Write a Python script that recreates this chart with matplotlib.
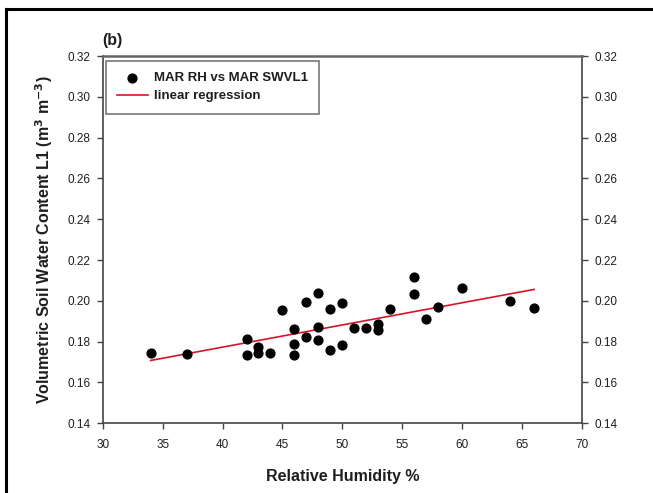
import matplotlib
matplotlib.use("Agg")
import matplotlib.pyplot as plt
from matplotlib.lines import Line2D
import numpy as np

# Monthly MAR relative humidity (%) against top-layer soil water content
rh = [34, 37, 42, 42, 43, 43, 44, 45, 46, 46, 46, 47, 47, 48, 48, 48,
      49, 49, 50, 50, 51, 52, 53, 53, 54, 56, 56, 57, 58, 60, 64, 66]
swvl1 = [0.1746, 0.1740, 0.1812, 0.1733, 0.1775, 0.1746, 0.1746, 0.1955,
         0.1861, 0.1789, 0.1733, 0.1996, 0.1825, 0.2040, 0.1874, 0.1808,
         0.1959, 0.1759, 0.1991, 0.1785, 0.1866, 0.1866, 0.1887, 0.1857,
         0.1962, 0.2119, 0.2032, 0.1913, 0.1969, 0.2063, 0.2001, 0.1967]

# Linear regression coefficients (SWVL1 = intercept + slope * RH)
fit_slope = 0.001088
fit_intercept = 0.1338

x_ticks = [30, 35, 40, 45, 50, 55, 60, 65, 70]
y_ticks = [0.14, 0.16, 0.18, 0.20, 0.22, 0.24, 0.26, 0.28, 0.30, 0.32]

plt.rcParams['font.family'] = ['Liberation Sans', 'DejaVu Sans']
text_col = '#1e1e1e'
spine_col = '#444444'

fig = plt.figure(figsize=(6.53, 4.93), dpi=100)
ax = fig.add_axes([0.1573, 0.1414, 0.7340, 0.7450])

ax.scatter(rh, swvl1, s=40, color='black', zorder=3,
           label='MAR RH vs MAR SWVL1')
fit_x = np.array([min(rh), max(rh)])
ax.plot(fit_x, fit_intercept + fit_slope * fit_x, color='#d8142c', lw=1.2,
        zorder=2, label='linear regression')

ax.set_xlim(30, 70)
ax.set_ylim(0.14, 0.32)
ax.set_xticks(x_ticks)
ax.set_yticks(y_ticks)
ax.set_yticklabels([f'{v:.2f}' for v in y_ticks])
ax.tick_params(axis='both', direction='out', length=4, width=1,
               color=spine_col, labelsize=8.5, labelcolor=text_col, pad=5)
ax.tick_params(axis='y', right=True, labelright=True)
ax.tick_params(axis='x', pad=7)
for sp in ax.spines.values():
    sp.set_color(spine_col)
    sp.set_linewidth(1.2)
ax.spines['top'].set_linewidth(1.8)
ax.spines['top'].set_color('#666666')

ax.set_xlabel('Relative Humidity %', fontsize=11.5, fontweight='bold',
              color=text_col, labelpad=13)
ax.set_ylabel('Volumetric Soil Water Content L1 (m$^\\mathbf{3}$ m$^\\mathbf{-3}$)',
              fontsize=11.5, fontweight='bold', color=text_col, labelpad=9)
ax.text(0.0, 1.022, '(b)', transform=ax.transAxes, fontsize=11.5,
        fontweight='bold', color=text_col, ha='left', va='bottom')

leg = ax.legend(loc='upper left', bbox_to_anchor=(0.007, 0.987),
                borderaxespad=0, prop={'weight': 'bold', 'size': 9.5},
                frameon=True, fancybox=False, borderpad=0.85,
                labelspacing=0.45, handlelength=2.3, handletextpad=0.5,
                scatterpoints=1)
leg.get_frame().set_edgecolor('#555555')
leg.get_frame().set_linewidth(1.2)
for t in leg.get_texts():
    t.set_color(text_col)

# Panel frame (top and left edges)
fig.add_artist(Line2D([6 / 653, 1.0], [1 - 9 / 493, 1 - 9 / 493],
                      transform=fig.transFigure, color='black', lw=2.2))
fig.add_artist(Line2D([6 / 653, 6 / 653], [0.0, 1 - 9 / 493],
                      transform=fig.transFigure, color='black', lw=2.2))

fig.savefig('out.png', dpi=100)
